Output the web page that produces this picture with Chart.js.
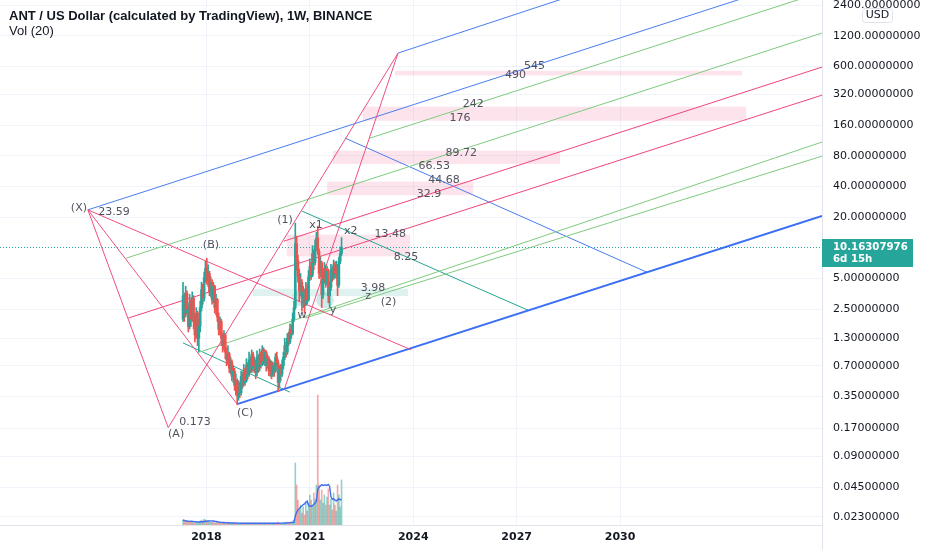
<!DOCTYPE html>
<html>
<head>
<meta charset="utf-8">
<title>ANT / USD</title>
<script src="https://cdn.jsdelivr.net/npm/chart.js@4.4.1/dist/chart.umd.min.js"></script>
<style>
html,body{margin:0;padding:0;background:#ffffff;overflow:hidden}
#box{position:relative;width:932px;height:550px}
canvas{display:block}
</style>
</head>
<body>
<div id="box"><canvas id="chart" width="932" height="550"></canvas></div>
<script>
// ================= DATA =================
const chartTitle = 'ANT / US Dollar (calculated by TradingView), 1W, BINANCE';
const volTitle = 'Vol (20)';
const priceTicks = [2400,1200,600,320,160,80,40,20,5,2.5,1.3,0.7,0.35,0.17,0.09,0.045,0.023];
const yearTicks = [2018,2021,2024,2027,2030];

// candles (two-week steps)
const firstBarYear = 2017.32;
const barStepYears = 14 / 365.25;
const firstOpen = 2.0;
const closes = [
 3.4,2.3,3.6,2.5,1.7,2.9,2.0,3.2,1.9,1.4,2.3,1.3,1.7,
 2.6,3.9,3.2,5.1,6.3,4.8,
 5.6,3.7,4.6,3.1,4.2,2.6,3.1,
 2.1,1.6,1.9,1.3,1.1,1.4,0.95,0.8,
 0.92,0.66,0.76,0.55,0.62,0.45,0.5,0.36,
 0.43,0.38,0.55,0.47,0.63,0.5,0.71,0.58,0.8,0.64,0.9,0.7,0.76,0.6,0.85,0.68,
 0.9,0.72,1.0,0.78,0.95,0.7,0.82,0.62,0.75,0.58,0.7,0.62,0.85,0.75,0.48,0.65,0.58,0.7,
 0.85,1.1,0.95,1.3,1.2,1.6,1.45,2.0,2.6,
 11.0,7.5,5.2,3.8,4.6,3.2,3.7,2.8,4.0,3.1,
 5.2,6.6,5.4,8.8,7.2,10.5,12.5,9.2,5.6,7.1,
 3.5,4.9,6.3,4.6,5.9,3.4,4.1,6.1,5.1,6.8,
 5.6,6.6,4.3,7.4,8.8,10.16
];
const highs = [
 4.6,3.6,4.2,3.8,2.7,3.5,3.1,3.7,3.4,2.2,2.6,2.4,2.0,
 3.0,4.6,4.4,5.8,7.4,7.9,
 6.8,5.9,5.2,4.9,4.6,4.3,3.5,
 3.2,2.3,2.1,2.0,1.45,1.55,1.45,1.05,
 1.1,0.95,0.85,0.8,0.7,0.66,0.58,0.52,
 0.5,0.48,0.62,0.6,0.72,0.66,0.82,0.75,0.95,0.85,1.0,0.95,0.85,0.8,0.98,0.9,
 1.02,0.95,1.1,1.05,1.0,0.98,0.9,0.86,0.8,0.78,0.76,0.74,0.92,0.95,0.8,0.7,0.72,0.8,
 0.95,1.3,1.2,1.45,1.5,1.8,1.75,2.3,3.0,
 17.5,13.0,8.5,6.2,5.6,4.9,4.2,3.9,4.6,4.4,
 6.0,7.8,7.2,10.5,9.6,12.0,14.2,16.3,9.8,8.2,
 7.4,5.6,7.2,6.8,6.6,6.2,4.6,6.9,6.5,7.6,
 7.3,7.4,6.9,8.1,10.2,12.6
];
const lows = [
 1.9,1.9,2.1,2.2,1.5,1.6,1.7,1.9,1.6,1.2,1.3,1.1,0.95,
 1.5,2.4,2.8,3.0,4.6,4.4,
 4.2,3.4,3.3,2.8,2.9,2.3,2.2,
 1.9,1.4,1.4,1.1,0.95,1.0,0.82,0.7,
 0.72,0.6,0.58,0.5,0.48,0.4,0.36,0.29,
 0.32,0.34,0.36,0.42,0.44,0.45,0.48,0.52,0.55,0.6,0.6,0.62,0.6,0.52,0.56,0.6,
 0.62,0.66,0.7,0.72,0.7,0.62,0.66,0.56,0.55,0.52,0.55,0.55,0.6,0.7,0.39,0.42,0.5,0.55,
 0.65,0.8,0.85,0.9,1.1,1.15,1.3,1.4,1.9,
 2.5,6.0,4.6,3.0,3.4,2.4,2.6,2.3,2.7,2.8,
 3.0,4.8,4.9,5.2,6.1,6.8,9.5,8.6,5.0,5.2,
 2.6,3.2,4.5,4.1,4.3,2.9,2.6,3.8,4.7,4.9,
 5.1,5.0,3.4,4.1,7.0,8.4
];
const volumes = [
 5,4,3,4,3,3,4,3,3,2,3,2,3,
 4,5,4,6,5,4,4,3,3,3,3,2,3,
 3,2,2,2,2,3,2,2,2,2,1.5,2,1.5,2,1.5,2,
 2,1.5,2,1.5,2,1.5,2,2,1.5,2,2,1.5,2,1.5,1.5,2,
 2,1.5,2,1.5,2,1.5,1.5,2,1.5,1.5,2,1.5,2,1.5,3,2,1.5,2,
 2,2.5,2,3,2.5,3,3,4,5,
 62,40,25,15,20,12,18,10,22,14,
 22,30,25,20,32,26,40,130,40,25,
 35,22,30,20,28,36,20,26,15,32,
 20,14,40,30,18,45
];
const volMaLength = 10; // 10 two-week bars = 20 weeks
const lastPrice = 10.16307976;
const lastPriceText = '10.16307976';
const countdownText = '6d 15h';

// drawing anchors [year, price]
const ptX = [2014.56, 23.59];
const ptA = [2016.89, 0.173];
const ptC = [2018.89, 0.294];
const ptD = [2023.56, 812];
const ptE = [2023.94, 1.0];
const ptF = [2020.27, 0.42];

// pattern lines
const patXA = [ptX, ptA];
const patXC = [ptX, ptC];
const patXE = [ptX, ptE];
const patAD = [ptA, ptD];
const patFD = [ptF, ptD];

// channel lines
const blueTop = [ptX, [2035.86, 4977]];
const blueTop2 = [ptD, [2028.84, 3147]];
const blueBottom = [ptC, [2035.86, 20.5]];
const greenA = [[2022.74, 119], [2035.86, 3219]];
const greenB = [[2015.67, 7.92], [2035.86, 1276]];
const redA = [[2020.25, 11.65], [2035.86, 592]];
const redB = [[2015.73, 2.05], [2035.86, 314]];
const greenC = [[2017.81, 0.952], [2035.86, 109]];
const greenD = [[2020.86, 2.05], [2035.86, 79.3]];
const blueDown = [[2022.02, 119.2], [2030.78, 5.77]];
const tealDown = [[2020.77, 22.95], [2027.33, 2.45]];
const tealLow = [[2017.32, 1.17], [2020.42, 0.385]];

// price-range boxes [yearFrom, yearTo, priceLow, priceHigh]
const pinkBoxes = [
 [2023.47, 2033.54, 490, 545],
 [2022.54, 2033.66, 176, 242],
 [2021.67, 2028.26, 66.53, 89.72],
 [2021.50, 2025.74, 32.9, 44.68],
 [2020.33, 2023.91, 8.25, 13.48]
];
const tealBoxes = [[2019.35, 2023.85, 3.37, 3.98]];
const tealEllipses = [[2020.745, 3.22], [2021.44, 3.07]];

// text labels [text, year, price]
const drawingLabels = [
 ['(X)', 2014.30, 24.5], ['23.59', 2015.32, 22.4],
 ['(A)', 2017.12, 0.149], ['0.173', 2017.67, 0.196],
 ['(B)', 2018.13, 10.6], ['(C)', 2019.12, 0.240],
 ['(1)', 2020.28, 18.7], ['x1', 2021.18, 16.8], ['x2', 2022.19, 14.6],
 ['13.48', 2023.33, 13.65], ['8.25', 2023.79, 8.1],
 ['3.98', 2022.83, 4.02], ['z', 2022.69, 3.37], ['(2)', 2023.28, 2.93],
 ['w', 2020.77, 2.19], ['y', 2021.67, 2.45],
 ['545', 2027.52, 605], ['490', 2026.97, 494],
 ['242', 2025.74, 256], ['176', 2025.36, 187],
 ['89.72', 2025.39, 85], ['66.53', 2024.61, 63.4],
 ['44.68', 2024.89, 46.2], ['32.9', 2024.46, 33.7]
];

// ================= BUILD =================
const UP = '#26a69a', DOWN = '#ef5350';
const BLUE = '#4a7df2', GREEN = '#7fca7f', RED = '#f0457a', TEAL = '#22a592', PAT = '#ef4f7e';
const barYears = closes.map((_, i) => firstBarYear + i * barStepYears);
const opens = closes.map((c, i) => i === 0 ? firstOpen : closes[i - 1]);
const isUp = closes.map((c, i) => c >= opens[i]);
const volMa = volumes.map((v, i) => {
  const s = Math.max(0, i - volMaLength + 1);
  const part = volumes.slice(s, i + 1);
  return part.reduce((a, b) => a + b, 0) / part.length;
});
const toXY = arr => arr.map(p => ({x: p[0], y: p[1]}));
function lineDs(pts, color, width, order) {
  return {type: 'line', data: toXY(pts), borderColor: color, borderWidth: width || 1,
    pointRadius: 0, fill: false, tension: 0, yAxisID: 'y', order: order || 5};
}

const datasets = [
  {type: 'bar', data: barYears.map((x, i) => ({x, y: [opens[i], closes[i]]})),
   backgroundColor: isUp.map(u => u ? UP : DOWN), barThickness: 2, grouped: false,
   borderWidth: 0, borderSkipped: false, yAxisID: 'y', order: 0},
  {type: 'bar', data: barYears.map((x, i) => ({x, y: [lows[i], highs[i]]})),
   backgroundColor: isUp.map(u => u ? UP : DOWN), barThickness: 1, grouped: false,
   borderWidth: 0, borderSkipped: false, yAxisID: 'y', order: 1},
  {type: 'line', data: barYears.map((x, i) => ({x, y: volMa[i]})), borderColor: '#3f6ff0',
   borderWidth: 1.4, pointRadius: 0, tension: 0, yAxisID: 'yv', order: 2},
  {type: 'bar', data: barYears.map((x, i) => ({x, y: volumes[i]})),
   backgroundColor: isUp.map(u => u ? 'rgba(38,166,154,0.5)' : 'rgba(239,83,80,0.5)'),
   barThickness: 1, grouped: false, borderWidth: 0, yAxisID: 'yv', order: 3},
  lineDs(patXA, PAT), lineDs(patXC, PAT), lineDs(patXE, PAT), lineDs(patAD, PAT), lineDs(patFD, PAT),
  lineDs(blueTop, BLUE), lineDs(blueTop2, BLUE), lineDs(blueBottom, '#3a6ff5', 2),
  lineDs(greenA, GREEN), lineDs(greenB, GREEN), lineDs(greenC, GREEN), lineDs(greenD, GREEN),
  lineDs(redA, RED), lineDs(redB, RED),
  lineDs(blueDown, BLUE), lineDs(tealDown, TEAL), lineDs(tealLow, TEAL)
];

const overlay = {
  id: 'overlay',
  beforeDatasetsDraw(chart) {
    const {ctx, chartArea: a, scales: {x, y}} = chart;
    ctx.save();
    ctx.beginPath(); ctx.rect(a.left, a.top, a.right - a.left, a.bottom - a.top); ctx.clip();
    const rect = (b, fill) => {
      const x0 = x.getPixelForValue(b[0]), x1 = x.getPixelForValue(b[1]);
      const y0 = y.getPixelForValue(b[3]), y1 = y.getPixelForValue(b[2]);
      ctx.fillStyle = fill; ctx.fillRect(x0, y0, x1 - x0, y1 - y0);
    };
    pinkBoxes.forEach(b => rect(b, 'rgba(242,96,140,0.17)'));
    tealBoxes.forEach(b => rect(b, 'rgba(38,166,154,0.15)'));
    ctx.fillStyle = 'rgba(38,166,154,0.22)';
    tealEllipses.forEach(p => {
      ctx.beginPath();
      ctx.ellipse(x.getPixelForValue(p[0]), y.getPixelForValue(p[1]), 9, 8, 0, 0, Math.PI * 2);
      ctx.fill();
    });
    const py = Math.round(y.getPixelForValue(lastPrice)) + 0.5;
    ctx.strokeStyle = UP; ctx.lineWidth = 1; ctx.setLineDash([1, 2]);
    ctx.beginPath(); ctx.moveTo(a.left, py); ctx.lineTo(a.right, py); ctx.stroke();
    ctx.restore();
  },
  afterDatasetsDraw(chart) {
    const {ctx, scales: {x, y}} = chart;
    ctx.save();
    ctx.font = '11px "DejaVu Sans"';
    ctx.fillStyle = '#50535e';
    ctx.textAlign = 'center'; ctx.textBaseline = 'middle';
    drawingLabels.forEach(l => ctx.fillText(l[0], x.getPixelForValue(l[1]), y.getPixelForValue(l[2])));
    ctx.restore();
  },
  afterDraw(chart) {
    const {ctx, chartArea: a, scales: {y}} = chart;
    ctx.save();
    ctx.strokeStyle = '#e0e3eb'; ctx.lineWidth = 1;
    ctx.beginPath(); ctx.moveTo(a.right + 0.5, 0); ctx.lineTo(a.right + 0.5, 550); ctx.stroke();
    const py = y.getPixelForValue(lastPrice);
    ctx.fillStyle = UP;
    ctx.fillRect(a.right, Math.round(py) - 8, 91, 28);
    ctx.fillStyle = '#ffffff';
    ctx.font = 'bold 10.2px "DejaVu Sans"';
    ctx.textAlign = 'left'; ctx.textBaseline = 'middle';
    ctx.fillText(lastPriceText, a.right + 11, py);
    ctx.fillText(countdownText, a.right + 11, py + 12);
    ctx.fillStyle = '#ffffff'; ctx.strokeStyle = '#e0e3eb';
    ctx.beginPath(); ctx.roundRect(862.5, 8.5, 30, 14, 3); ctx.fill(); ctx.stroke();
    ctx.fillStyle = '#131722'; ctx.font = '11px "DejaVu Sans"'; ctx.textAlign = 'center';
    ctx.fillText('USD', 877.5, 15.5);
    ctx.textAlign = 'left'; ctx.textBaseline = 'alphabetic';
    ctx.fillStyle = '#131722';
    ctx.font = 'bold 13px "Liberation Sans"';
    ctx.fillText(chartTitle, 9, 20);
    ctx.font = '13px "Liberation Sans"';
    ctx.fillText(volTitle, 9, 35);
    ctx.restore();
  }
};

new Chart(document.getElementById('chart'), {
  type: 'bar',
  data: {datasets},
  plugins: [overlay],
  options: {
    responsive: false, animation: false, devicePixelRatio: 1,
    layout: {padding: 0},
    plugins: {legend: {display: false}, tooltip: {enabled: false}, title: {display: false}},
    scales: {
      x: {
        type: 'linear', min: 2012.01, max: 2035.86, offset: false,
        afterBuildTicks: s => { s.ticks = yearTicks.map(v => ({value: v})); },
        afterFit: s => { s.height = 25; s.paddingLeft = 0; s.paddingRight = 0; },
        ticks: {autoSkip: false, maxRotation: 0, padding: 6, color: '#131722',
                font: {family: 'DejaVu Sans', size: 11, weight: 'bold'}, callback: v => String(v)},
        grid: {color: '#f0f3fa', drawTicks: false, offset: false},
        border: {display: true, color: '#e0e3eb'}
      },
      y: {
        type: 'logarithmic', position: 'right', min: 0.0192, max: 2690,
        afterBuildTicks: s => { s.ticks = priceTicks.map(v => ({value: v})); },
        afterFit: s => { s.width = 110; s.paddingTop = 0; s.paddingBottom = 0; },
        ticks: {autoSkip: false, padding: 11, color: '#131722',
                font: {family: 'DejaVu Sans', size: 11}, callback: v => Number(v).toFixed(8)},
        grid: {color: '#f0f3fa', drawTicks: false},
        border: {display: true, color: '#e0e3eb'}
      },
      yv: {type: 'linear', min: 0, max: 525, display: false}
    }
  }
});
</script>
</body>
</html>
